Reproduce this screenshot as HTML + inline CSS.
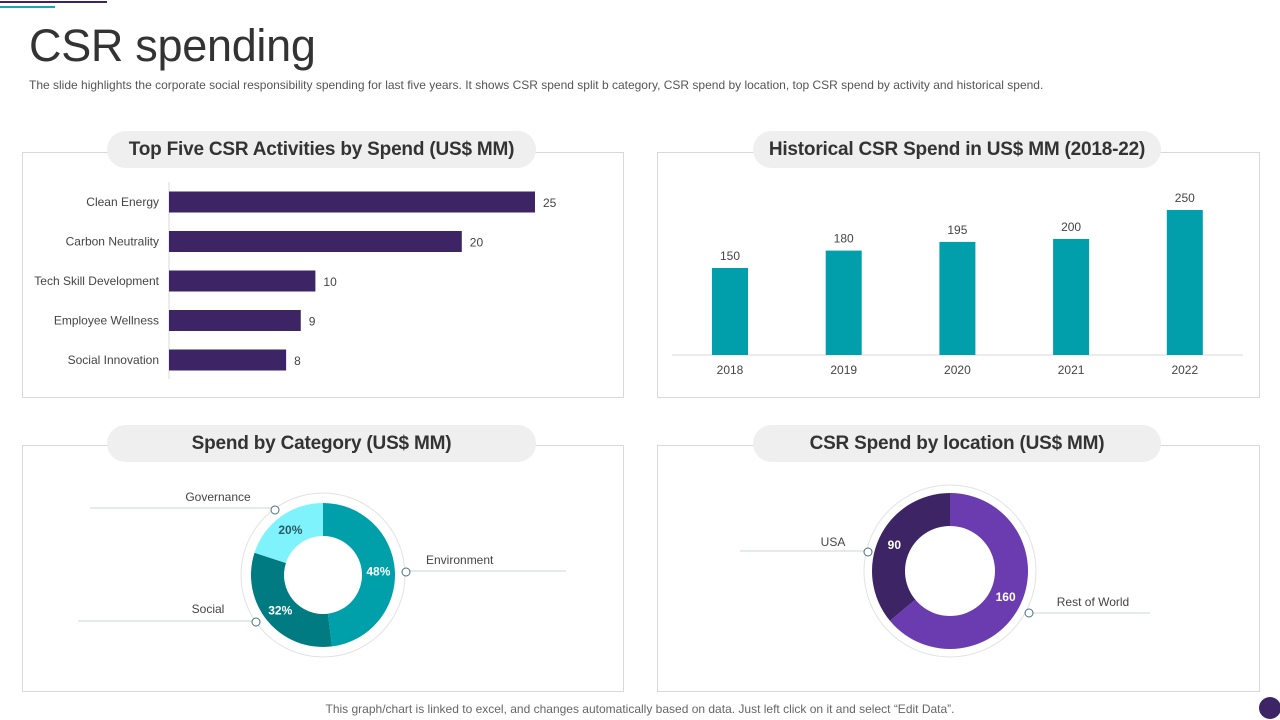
<!DOCTYPE html>
<html><head><meta charset="utf-8">
<style>
body{margin:0;width:1280px;height:720px;background:#fff;font-family:"Liberation Sans",sans-serif;position:relative;overflow:hidden}
.abs{position:absolute}
.panel{position:absolute;border:1px solid #d9d9d9;background:#fff;box-sizing:border-box}
.pill{position:absolute;background:#efefef;border-radius:19px;text-align:center;font-weight:bold;font-size:19px;color:#333;line-height:37px;letter-spacing:-0.2px}
svg text{font-family:"Liberation Sans",sans-serif}
</style></head><body>
<div class="abs" style="left:0;top:1px;width:107px;height:2px;background:#3d2565"></div>
<div class="abs" style="left:0;top:6px;width:55px;height:2px;background:#1aa6b0"></div>
<div class="abs" style="left:29px;top:20px;font-size:45px;color:#333;font-weight:normal;letter-spacing:-0.3px">CSR spending</div>
<div class="abs" style="left:29px;top:78px;font-size:12px;color:#555;letter-spacing:0px;white-space:nowrap">The slide highlights the corporate social responsibility spending for last five years. It shows CSR spend split b category, CSR spend by location, top CSR spend by activity  and historical spend.</div>

<div class="panel" style="left:22px;top:152px;width:602px;height:246px"></div>
<div class="panel" style="left:657px;top:152px;width:603px;height:246px"></div>
<div class="panel" style="left:22px;top:445px;width:602px;height:247px"></div>
<div class="panel" style="left:657px;top:445px;width:603px;height:247px"></div>

<div class="pill" style="left:107px;top:131px;width:429px">Top Five CSR Activities by Spend (US$ MM)</div>
<div class="pill" style="left:753px;top:131px;width:408px">Historical CSR Spend in US$ MM (2018-22)</div>
<div class="pill" style="left:107px;top:425px;width:429px">Spend by Category (US$ MM)</div>
<div class="pill" style="left:753px;top:425px;width:408px">CSR Spend by location (US$ MM)</div>

<svg class="abs" style="left:0;top:0" width="1280" height="720" id="charts"></svg>

<div class="abs" style="left:0;width:1280px;top:702px;text-align:center;font-size:12px;color:#666;letter-spacing:0px;white-space:nowrap">This graph/chart is linked to excel,  and changes automatically based on data. Just left click on it and select “Edit Data”.</div>
<div class="abs" style="left:1259px;top:697px;width:22px;height:22px;border-radius:50%;background:#3d2565"></div>

<script>
const activityNames=["Clean Energy","Carbon Neutrality","Tech Skill Development","Employee Wellness","Social Innovation"];
const activityValues=[25,20,10,9,8];
const years=["2018","2019","2020","2021","2022"];
const yearValues=[150,180,195,200,250];
const categoryNames=["Environment","Social","Governance"];
const categoryValues=[48,32,20];
const locationNames=["Rest of World","USA"];
const locationValues=[160,90];

const NS="http://www.w3.org/2000/svg";
const svg=document.getElementById('charts');
function mk(t,a,txt){const e=document.createElementNS(NS,t);for(const k in a)e.setAttribute(k,a[k]);if(txt!==undefined)e.textContent=txt;svg.appendChild(e);return e;}

// bar chart (horizontal)
const bx=v=>169+v*14.64;
const by=i=>202+i*39.5;
let e=mk('line',{x1:169,y1:182,x2:169,y2:379,stroke:'#d9d9d9'});

activityValues.forEach((v,i)=>{
  let r=mk('rect',{x:169,y:by(i)-10.5,width:bx(v)-169,height:21,fill:'#3d2565'});
  
  let t=mk('text',{x:159,y:by(i)+4,'text-anchor':'end','font-size':12,fill:'#444'},activityNames[i]);
  
  let l=mk('text',{x:bx(v)+8,y:by(i)+5,'font-size':12,fill:'#444'},String(v));
  
});

// column chart
const cx=i=>730+i*113.7;
const cy=v=>355-v*0.58;
e=mk('line',{x1:672,y1:355,x2:1243,y2:355,stroke:'#d9d9d9'});

yearValues.forEach((v,i)=>{
  let r=mk('rect',{x:cx(i)-18,y:cy(v),width:36,height:355-cy(v),fill:'#009fab'});
  
  let l=mk('text',{x:cx(i),y:cy(v)-8,'text-anchor':'middle','font-size':12,fill:'#444'},String(v));
  
  let t=mk('text',{x:cx(i),y:374,'text-anchor':'middle','font-size':12,fill:'#444'},years[i]);
  
});

function donut(cxp,cyp,ro,ri,vals,colors,labels,labelColors,ring,name){
  const tot=vals.reduce((a,b)=>a+b,0);
  let c=mk('circle',{cx:cxp,cy:cyp,r:ring,fill:'none',stroke:'#e2e2e2','stroke-width':1});
  
  let a0=0;
  vals.forEach((v,i)=>{
    const a1=a0+v/tot*2*Math.PI;
    const p=(r,a)=>[cxp+r*Math.sin(a),cyp-r*Math.cos(a)];
    const [x1,y1]=p(ro,a0),[x2,y2]=p(ro,a1),[x3,y3]=p(ri,a1),[x4,y4]=p(ri,a0);
    const lg=(a1-a0)>Math.PI?1:0;
    let s=mk('path',{d:`M${x1},${y1}A${ro},${ro} 0 ${lg} 1 ${x2},${y2}L${x3},${y3}A${ri},${ri} 0 ${lg} 0 ${x4},${y4}Z`,fill:colors[i]});
    
    const am=(a0+a1)/2,[lx,ly]=p((ro+ri)/2,am);
    let t=mk('text',{x:lx,y:ly+4,'text-anchor':'middle','font-size':12,'font-weight':'bold',fill:labelColors[i]},labels[i]);
    
    a0=a1;
  });
}
donut(323,575,72,39,categoryValues,['#00a0aa','#007b82','#7ff3fb'],categoryValues.map(v=>v+'%'),['#fff','#fff','#2b5a66'],82,'category');
donut(950,571,78,45,locationValues,['#6a3cb0','#3d2565'],locationValues.map(String),['#fff','#fff'],86,'location');

function callout(x1,x2,y,cxp,cyp,lx,ly,txt,anchor){
  let l=mk('line',{x1:x1,y1:y,x2:x2,y2:y,stroke:'#cfd6da'});
  
  let c=mk('circle',{cx:cxp,cy:cyp,r:4,fill:'#fff',stroke:'#4a6f7f','stroke-width':1});
  
  let t=mk('text',{x:lx,y:ly,'text-anchor':anchor,'font-size':12,fill:'#444'},txt);
  
}
callout(90,272,508,275,510,218,501,categoryNames[2],'middle');
callout(410,566,571,406,572,426,564,categoryNames[0],'start');
callout(78,252,621,256,622,208,613,categoryNames[1],'middle');
callout(740,864,551,868,552,833,546,locationNames[1],'middle');
callout(1033,1150,613,1029,613,1093,606,locationNames[0],'middle');
</script>
</body></html>
